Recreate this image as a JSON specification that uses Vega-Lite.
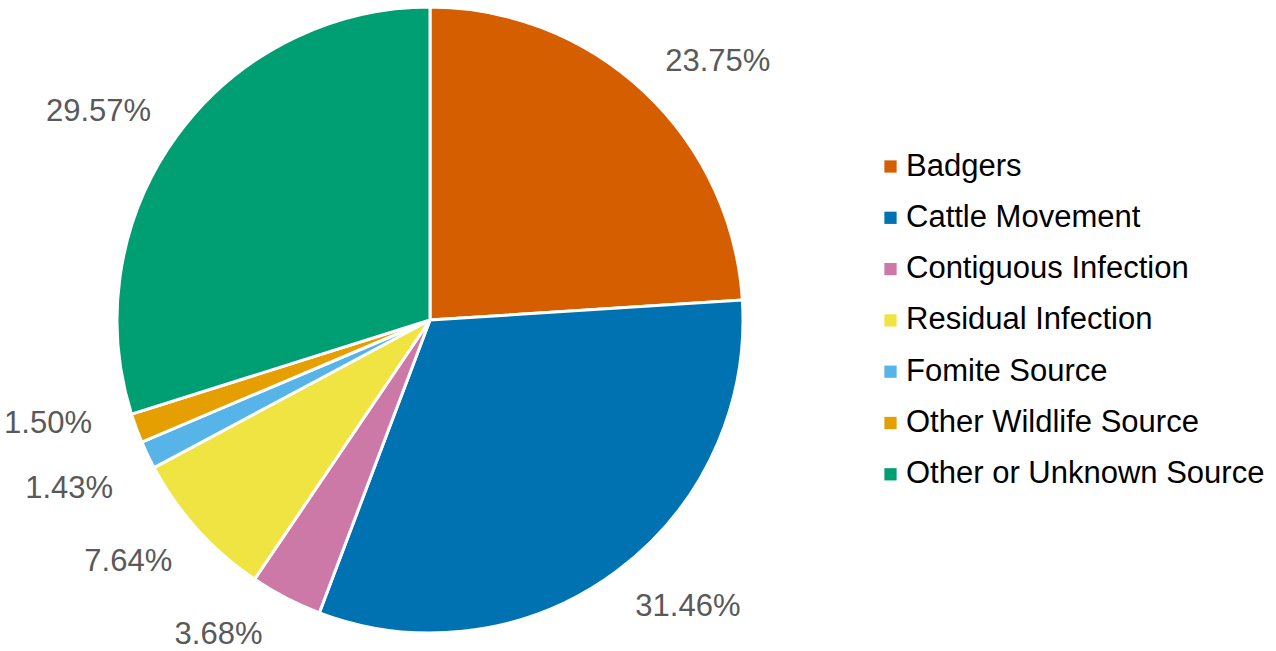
{
  "$schema": "https://vega.github.io/schema/vega-lite/v6.json",
  "width": 1276,
  "height": 651,
  "padding": {"left": 0, "top": 0, "right": 0, "bottom": 0},
  "autosize": {"type": "none"},
  "background": "white",
  "view": {"stroke": null},
  "data": {
    "values": [
      {"idx": 1, "source": "Badgers", "pct": 23.75, "label": "23.75%"},
      {"idx": 2, "source": "Cattle Movement", "pct": 31.46, "label": "31.46%"},
      {"idx": 3, "source": "Contiguous Infection", "pct": 3.68, "label": "3.68%"},
      {"idx": 4, "source": "Residual Infection", "pct": 7.64, "label": "7.64%"},
      {"idx": 5, "source": "Fomite Source", "pct": 1.43, "label": "1.43%"},
      {"idx": 6, "source": "Other Wildlife Source", "pct": 1.50, "label": "1.50%"},
      {"idx": 7, "source": "Other or Unknown Source", "pct": 29.57, "label": "29.57%"}
    ]
  },
  "encoding": {
    "theta": {"field": "pct", "type": "quantitative", "stack": true},
    "order": {"field": "idx", "type": "quantitative"},
    "x": {"value": 430},
    "y": {"value": 320}
  },
  "layer": [
    {
      "mark": {"type": "arc", "outerRadius": 313, "stroke": "white", "strokeWidth": 3},
      "encoding": {
        "color": {
          "field": "source",
          "type": "nominal",
          "sort": ["Badgers", "Cattle Movement", "Contiguous Infection", "Residual Infection", "Fomite Source", "Other Wildlife Source", "Other or Unknown Source"],
          "scale": {
            "domain": ["Badgers", "Cattle Movement", "Contiguous Infection", "Residual Infection", "Fomite Source", "Other Wildlife Source", "Other or Unknown Source"],
            "range": ["#D55E00", "#0072B2", "#CC79A7", "#F0E442", "#56B4E9", "#E69F00", "#009E73"]
          },
          "legend": {
            "title": null,
            "orient": "none",
            "legendX": 875,
            "legendY": 151,
            "symbolType": "square",
            "symbolSize": 150,
            "symbolStrokeWidth": 0,
            "labelFont": "Liberation Sans",
            "labelFontSize": 31,
            "labelColor": "#000000",
            "labelOffset": 0,
            "rowPadding": 19.3,
            "labelLimit": 500
          }
        }
      }
    },
    {
      "mark": {"type": "text", "radius": 390, "dx": 21, "dy": 26, "font": "Liberation Sans", "fontSize": 31, "color": "#595959", "align": "center", "baseline": "middle"},
      "encoding": {"text": {"condition": {"test": "datum.idx === 1", "field": "label", "type": "nominal"}, "value": ""}}
    },
    {
      "mark": {"type": "text", "radius": 390, "dx": 26, "dy": -27, "font": "Liberation Sans", "fontSize": 31, "color": "#595959", "align": "center", "baseline": "middle"},
      "encoding": {"text": {"condition": {"test": "datum.idx === 2", "field": "label", "type": "nominal"}, "value": ""}}
    },
    {
      "mark": {"type": "text", "radius": 390, "dx": -32, "dy": -31, "font": "Liberation Sans", "fontSize": 31, "color": "#595959", "align": "center", "baseline": "middle"},
      "encoding": {"text": {"condition": {"test": "datum.idx === 3", "field": "label", "type": "nominal"}, "value": ""}}
    },
    {
      "mark": {"type": "text", "radius": 390, "dx": -12, "dy": -19, "font": "Liberation Sans", "fontSize": 31, "color": "#595959", "align": "center", "baseline": "middle"},
      "encoding": {"text": {"condition": {"test": "datum.idx === 4", "field": "label", "type": "nominal"}, "value": ""}}
    },
    {
      "mark": {"type": "text", "radius": 390, "dx": -9, "dy": 1, "font": "Liberation Sans", "fontSize": 31, "color": "#595959", "align": "center", "baseline": "middle"},
      "encoding": {"text": {"condition": {"test": "datum.idx === 5", "field": "label", "type": "nominal"}, "value": ""}}
    },
    {
      "mark": {"type": "text", "radius": 390, "dx": -16, "dy": -31, "font": "Liberation Sans", "fontSize": 31, "color": "#595959", "align": "center", "baseline": "middle"},
      "encoding": {"text": {"condition": {"test": "datum.idx === 6", "field": "label", "type": "nominal"}, "value": ""}}
    },
    {
      "mark": {"type": "text", "radius": 390, "dx": -17, "dy": 23, "font": "Liberation Sans", "fontSize": 31, "color": "#595959", "align": "center", "baseline": "middle"},
      "encoding": {"text": {"condition": {"test": "datum.idx === 7", "field": "label", "type": "nominal"}, "value": ""}}
    }
  ]
}
